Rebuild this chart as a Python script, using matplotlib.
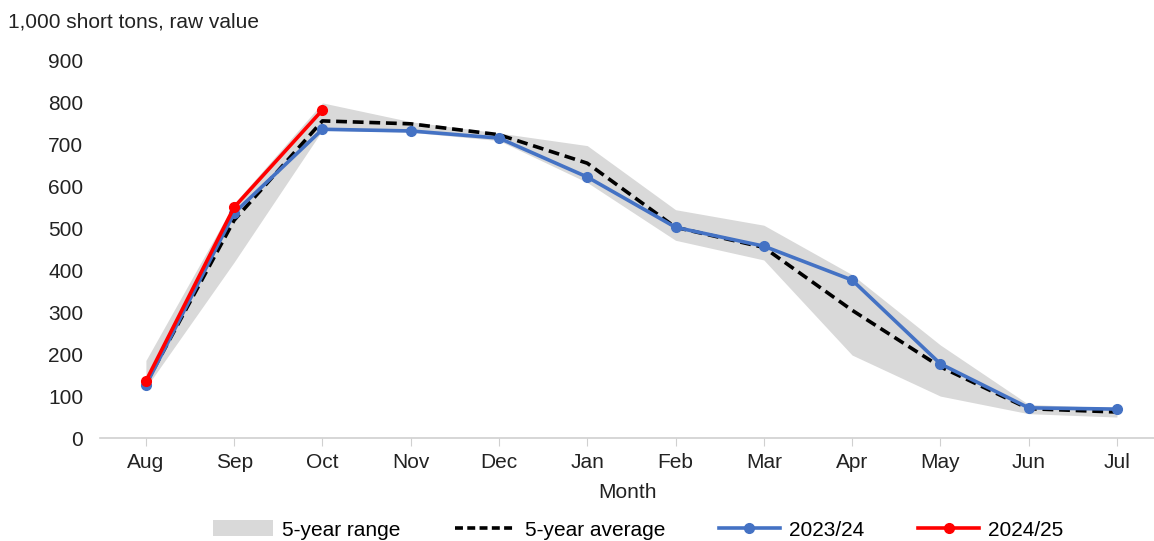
import numpy as np
import matplotlib.pyplot as plt
from matplotlib.patches import Patch
from matplotlib.lines import Line2D

plt.rcParams['font.family'] = ['Liberation Sans', 'DejaVu Sans']

months = ['Aug', 'Sep', 'Oct', 'Nov', 'Dec', 'Jan', 'Feb', 'Mar', 'Apr', 'May', 'Jun', 'Jul']

# 5-year range (low / high) and average
range_low = [120, 420, 735, 730, 710, 610, 472, 425, 198, 100, 58, 50]
range_high = [185, 560, 800, 755, 728, 698, 545, 508, 390, 222, 80, 72]
avg_5yr = [130, 520, 757, 750, 724, 656, 503, 455, 305, 170, 70, 62]

# marketing years
y2023_24 = [126, 537, 737, 733, 716, 623, 503, 458, 377, 177, 72, 69]
y2024_25 = [136, 551, 783]

x = np.arange(len(months))

fig = plt.figure(figsize=(11.54, 5.41), dpi=100)
ax = fig.add_axes([100 / 1154, 103 / 541, 1054 / 1154, 377 / 541])

ax.fill_between(x, range_low, range_high, color='#d9d9d9', linewidth=0)
ax.plot(x, avg_5yr, color='black', linestyle=(0, (3, 1.6)), linewidth=2.6)
ax.plot(x, y2023_24, color='#4472c4', linewidth=2.6, marker='o', markersize=7)
ax.plot(x[:len(y2024_25)], y2024_25, color='#ff0000', linewidth=2.6, marker='o', markersize=7)

ax.set_ylim(0, 900)
ax.set_yticks(range(0, 901, 100))
ax.set_xlim(-0.52, 11.42)
ax.set_xticks(x)
ax.set_xticklabels(months)

for s in ['top', 'right', 'left']:
    ax.spines[s].set_visible(False)
ax.spines['bottom'].set_color('#d0d0d0')
ax.spines['bottom'].set_linewidth(1.2)
ax.tick_params(axis='y', length=0, labelsize=15, pad=12, colors='#222222')
ax.tick_params(axis='x', length=6, color='#d0d0d0', labelsize=15, pad=5, labelcolor='#222222')

ax.set_xlabel('Month', fontsize=15, color='#222222', labelpad=8)
fig.text(8 / 1154, 1 - 22 / 541, '1,000 short tons, raw value', fontsize=15,
         color='#222222', va='center', ha='left')

handles = [
    Patch(facecolor='#d9d9d9', edgecolor='none'),
    Line2D([], [], color='black', linestyle=(0, (2.2, 1.2)), linewidth=2.6),
    Line2D([], [], color='#4472c4', linewidth=2.6, marker='o', markersize=7),
    Line2D([], [], color='#ff0000', linewidth=2.6, marker='o', markersize=7),
]
labels = ['5-year range', '5-year average', '2023/24', '2024/25']
fig.legend(handles, labels, loc='center', bbox_to_anchor=(638 / 1154, 1 - 530 / 541),
           ncol=4, frameon=False, fontsize=15, handlelength=2.9, handletextpad=0.45,
           columnspacing=2.6, handleheight=0.8, borderpad=0)

fig.savefig('out.png', dpi=100)
